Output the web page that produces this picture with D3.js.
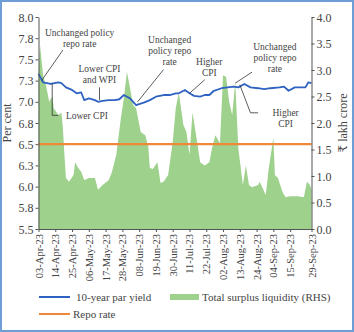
<!DOCTYPE html>
<html>
<head>
<meta charset="utf-8">
<script src="https://cdn.jsdelivr.net/npm/d3@7"></script>
<style>
  html, body { margin: 0; padding: 0; background: #fff; }
  svg { display: block; }
</style>
</head>
<body>
<svg id="chart" width="354" height="332" font-family="'Liberation Serif', 'DejaVu Serif', serif"></svg>
<script>
// 10-year par yield (per cent)
const yieldDates = ["2023-04-03","2023-04-06","2023-04-11","2023-04-16","2023-04-18","2023-04-21","2023-04-25","2023-04-28","2023-05-01","2023-05-03","2023-05-06","2023-05-10","2023-05-12","2023-05-15","2023-05-19","2023-05-23","2023-05-26","2023-05-29","2023-06-02","2023-06-06","2023-06-11","2023-06-15","2023-06-19","2023-06-24","2023-06-28","2023-07-02","2023-07-04","2023-07-08","2023-07-11","2023-07-14","2023-07-18","2023-07-21","2023-07-24","2023-07-27","2023-08-01","2023-08-05","2023-08-09","2023-08-12","2023-08-16","2023-08-20","2023-08-25","2023-08-29","2023-09-02","2023-09-08","2023-09-11","2023-09-14","2023-09-18","2023-09-22","2023-09-25","2023-09-27","2023-09-29"];
const yieldValues = [7.33,7.23,7.21,7.23,7.22,7.17,7.14,7.10,7.11,7.02,7.04,7.02,7.00,7.01,7.02,7.02,7.03,7.08,7.04,6.96,6.99,7.02,7.06,7.08,7.08,7.10,7.10,7.14,7.10,7.07,7.06,7.08,7.08,7.13,7.16,7.17,7.18,7.17,7.21,7.17,7.16,7.15,7.16,7.17,7.18,7.13,7.17,7.17,7.17,7.23,7.22];

// Total surplus liquidity (₹ lakh crore, RHS)
const liqDates = ["2023-04-03","2023-04-04","2023-04-06","2023-04-08","2023-04-10","2023-04-12","2023-04-13","2023-04-16","2023-04-18","2023-04-19","2023-04-20","2023-04-21","2023-04-23","2023-04-26","2023-04-27","2023-04-29","2023-05-01","2023-05-03","2023-05-06","2023-05-10","2023-05-12","2023-05-15","2023-05-19","2023-05-21","2023-05-24","2023-05-27","2023-05-29","2023-05-31","2023-06-02","2023-06-04","2023-06-06","2023-06-09","2023-06-12","2023-06-14","2023-06-15","2023-06-17","2023-06-20","2023-06-22","2023-06-24","2023-06-27","2023-06-30","2023-07-02","2023-07-04","2023-07-07","2023-07-09","2023-07-11","2023-07-13","2023-07-15","2023-07-18","2023-07-21","2023-07-24","2023-07-26","2023-07-28","2023-07-31","2023-08-02","2023-08-04","2023-08-06","2023-08-08","2023-08-10","2023-08-12","2023-08-15","2023-08-17","2023-08-19","2023-08-21","2023-08-25","2023-08-26","2023-08-28","2023-08-30","2023-09-01","2023-09-04","2023-09-05","2023-09-07","2023-09-10","2023-09-12","2023-09-15","2023-09-20","2023-09-24","2023-09-26","2023-09-28","2023-09-29"];
const liqValues = [2.9,3.47,2.9,2.7,2.4,2.5,2.28,2.15,2.2,1.9,1.4,0.96,0.89,1.02,1.26,1.15,1.08,0.92,0.96,0.96,0.74,0.83,0.92,1.06,1.4,2.09,2.47,2.96,2.66,2.34,2.28,1.83,1.77,1.55,1.15,1.13,1.26,0.87,0.89,1.02,1.64,2.28,2.57,1.96,1.83,1.4,2.2,1.83,1.26,1.2,1.26,1.55,1.77,1.62,2.9,2.87,2.4,2.15,2.77,1.53,0.83,1.2,0.83,0.79,0.83,0.89,0.77,0.64,1.15,1.72,1.02,0.96,0.70,0.60,0.62,0.62,0.60,0.89,0.83,0.74];

const repoRate = 6.5;

const tickDates = ["2023-04-03","2023-04-14","2023-04-25","2023-05-06","2023-05-17","2023-05-28","2023-06-08","2023-06-19","2023-06-30","2023-07-11","2023-07-22","2023-08-02","2023-08-13","2023-08-24","2023-09-04","2023-09-15","2023-09-29"];
const leftTicks = [5.5,5.75,6.0,6.25,6.5,6.75,7.0,7.25,7.5,7.75,8.0];
const rightTicks = [0,0.5,1.0,1.5,2.0,2.5,3.0,3.5,4.0];

// annotations: label lines, text anchor (date, yield) and leader path (date, yield)
const notes = [
  { lines: ["Unchanged policy", "repo rate"], at: ["2023-04-30", 7.78], anchor: "middle",
    path: [["2023-04-19", 7.61], ["2023-04-05", 7.25]] },
  { lines: ["Lower CPI"], at: ["2023-04-21", 6.80], anchor: "start",
    path: [["2023-04-12", 7.22], ["2023-04-12", 6.84], ["2023-04-16", 6.84]] },
  { lines: ["Lower CPI", "and WPI"], at: ["2023-05-13", 7.35], anchor: "middle",
    path: [["2023-05-13", 7.17], ["2023-05-13", 7.02]] },
  { lines: ["Unchanged", "policy repo", "rate"], at: ["2023-06-28", 7.69], anchor: "middle",
    path: [["2023-06-24", 7.38], ["2023-06-07", 7.0]] },
  { lines: ["Higher", "CPI"], at: ["2023-07-24", 7.43], anchor: "middle",
    path: [["2023-07-21", 7.26], ["2023-07-11", 7.10]] },
  { lines: ["Unchanged", "policy repo", "rate"], at: ["2023-09-05", 7.61], anchor: "middle",
    path: [["2023-08-21", 7.35], ["2023-08-10", 7.22]] },
  { lines: ["Higher", "CPI"], at: ["2023-09-12", 6.83], anchor: "middle",
    path: [["2023-08-13", 7.20], ["2023-08-20", 6.87], ["2023-08-25", 6.87]] }
];

const parse = d3.timeParse("%Y-%m-%d");
const fmtTick = d3.timeFormat("%d-%b-%y");

const width = 354, height = 332;
const margin = { top: 17, right: 42.5, bottom: 103, left: 38.5 };
const innerWidth = width - margin.left - margin.right;
const innerHeight = height - margin.top - margin.bottom;
const textColor = "#444";
const fontFamily = "'Liberation Serif', 'DejaVu Serif', serif";

const svg = d3.select("#chart");

svg.append("rect")
  .attr("x", 1).attr("y", 1)
  .attr("width", width - 2).attr("height", height - 2)
  .attr("fill", "none")
  .attr("stroke", "#6d9fd6")
  .attr("stroke-width", 2);

const g = svg.append("g")
  .attr("transform", `translate(${margin.left},${margin.top})`);

const x = d3.scaleTime()
  .domain([parse("2023-04-03"), parse("2023-09-29")])
  .range([0, innerWidth]);
const yL = d3.scaleLinear().domain([5.5, 8.0]).range([innerHeight, 0]);
const yR = d3.scaleLinear().domain([0, 4.0]).range([innerHeight, 0]);

const liq = liqDates.map((d, i) => ({ date: parse(d), value: liqValues[i] }));
const yld = yieldDates.map((d, i) => ({ date: parse(d), value: yieldValues[i] }));

// liquidity area
g.append("path")
  .datum(liq)
  .attr("fill", "#9dd18c")
  .attr("d", d3.area().x(d => x(d.date)).y0(innerHeight).y1(d => yR(d.value)));

// repo rate
g.append("line")
  .attr("x1", 0).attr("x2", innerWidth)
  .attr("y1", yL(repoRate)).attr("y2", yL(repoRate))
  .attr("stroke", "#f0883a")
  .attr("stroke-width", 2.2);

// 10-year yield
g.append("path")
  .datum(yld)
  .attr("fill", "none")
  .attr("stroke", "#2f63c2")
  .attr("stroke-width", 1.8)
  .attr("stroke-linejoin", "round")
  .attr("d", d3.line().x(d => x(d.date)).y(d => yL(d.value)));

// axes
const axisColor = "#555";
function styleAxis(sel, size) {
  sel.attr("font-family", fontFamily)
    .attr("font-size", size)
    .attr("fill", textColor);
  sel.selectAll(".domain, .tick line").attr("stroke", axisColor);
  sel.selectAll(".domain").attr("fill", "none");
  sel.selectAll(".tick text").attr("fill", textColor);
}

const xAxis = g.append("g")
  .attr("transform", `translate(0,${innerHeight})`)
  .call(d3.axisBottom(x).tickValues(tickDates.map(parse)).tickFormat(fmtTick).tickSize(3).tickSizeOuter(0));
styleAxis(xAxis, 10.5);
xAxis.selectAll(".tick text")
  .attr("x", -5).attr("y", 0).attr("dy", 3.5)
  .attr("transform", "rotate(-90)")
  .attr("text-anchor", "end");

const leftAxis = g.append("g")
  .call(d3.axisLeft(yL).tickValues(leftTicks).tickFormat(d3.format(".1f")).tickSize(3).tickSizeOuter(0));
styleAxis(leftAxis, 12);
leftAxis.selectAll(".tick text").attr("x", -5).attr("dy", 4);

const rightAxis = g.append("g")
  .attr("transform", `translate(${innerWidth},0)`)
  .call(d3.axisRight(yR).tickValues(rightTicks).tickFormat(d3.format(".1f")).tickSize(3).tickSizeOuter(0));
styleAxis(rightAxis, 12);
rightAxis.selectAll(".tick text").attr("x", 5).attr("dy", 4);

// axis titles
svg.append("text")
  .attr("transform", `translate(11,${margin.top + innerHeight / 2}) rotate(-90)`)
  .attr("text-anchor", "middle")
  .attr("font-size", 12)
  .attr("fill", textColor)
  .text("Per cent");

svg.append("text")
  .attr("transform", `translate(347,${margin.top + innerHeight / 2}) rotate(-90)`)
  .attr("text-anchor", "middle")
  .attr("font-size", 12)
  .attr("fill", textColor)
  .text("₹ lakh crore");

// annotations
notes.forEach(n => {
  g.append("path")
    .attr("fill", "none")
    .attr("stroke", "#333")
    .attr("stroke-width", 0.8)
    .attr("d", d3.line().x(p => x(parse(p[0]))).y(p => yL(p[1]))(n.path));
  const t = g.append("text")
    .attr("x", x(parse(n.at[0])))
    .attr("y", yL(n.at[1]))
    .attr("text-anchor", n.anchor)
    .attr("font-size", 9.5)
    .attr("fill", textColor);
  n.lines.forEach((line, i) => {
    t.append("tspan")
      .attr("x", x(parse(n.at[0])))
      .attr("dy", i === 0 ? 0 : 11)
      .text(line);
  });
});

// legend
const legend = svg.append("g");
const legendItems = [
  { label: "10-year par yield", color: "#2f63c2", kind: "line", lx: 39, ly: 297, tx: 76 },
  { label: "Total surplus liquidity (RHS)", color: "#9dd18c", kind: "rect", lx: 170, ly: 297, tx: 202 },
  { label: "Repo rate", color: "#f0883a", kind: "line", lx: 39, ly: 314, tx: 73 }
];
legendItems.forEach(item => {
  if (item.kind === "line") {
    legend.append("line")
      .attr("x1", item.lx).attr("x2", item.lx + 31)
      .attr("y1", item.ly).attr("y2", item.ly)
      .attr("stroke", item.color)
      .attr("stroke-width", 2);
  } else {
    legend.append("rect")
      .attr("x", item.lx).attr("y", item.ly - 3)
      .attr("width", 29).attr("height", 6)
      .attr("fill", item.color);
  }
  legend.append("text")
    .attr("x", item.tx).attr("y", item.ly + 4)
    .attr("font-size", 11)
    .attr("fill", textColor)
    .text(item.label);
});
</script>
</body>
</html>
